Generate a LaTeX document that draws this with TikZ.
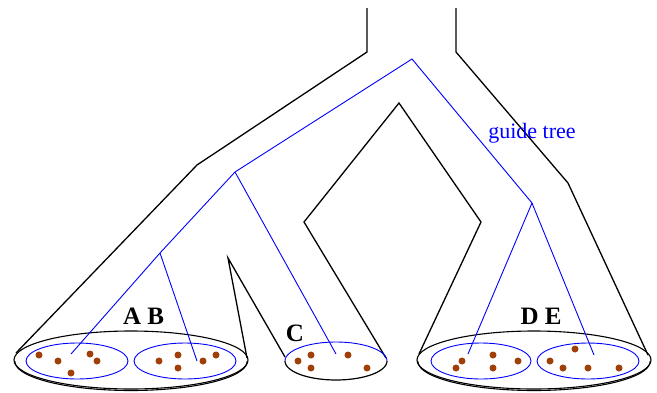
\documentclass[tikz,border=0pt]{standalone}
\usepackage{fontspec}
\setmainfont{Liberation Serif}
\definecolor{seed}{RGB}{160,64,8}
\begin{document}
\begin{tikzpicture}[x=1pt,y=-1pt,
  outline/.style={black, line width=1.3pt, line join=miter},
  guide/.style={blue, line width=0.9pt},
  seeddot/.style={circle, fill=seed, inner sep=0pt, minimum size=7pt},
  grp/.style={blue, line width=0.9pt},
  lbl/.style={font=\bfseries\fontsize{25}{25}\selectfont, anchor=base, inner sep=0pt}]
\useasboundingbox (0,0) rectangle (657,392);

% ---- black outline of the tree ----
\coordinate (lt) at (367,8);
\coordinate (lk) at (367,52);
\coordinate (lb) at (197,165);
\coordinate (le) at (16,353);
\coordinate (rt) at (456,8);
\coordinate (rk) at (456,52);
\coordinate (rb) at (568,183);
\coordinate (re) at (648,355);
\draw[outline] (lt) -- (lk) -- (lb) -- (le);
\draw[outline] (rt) -- (rk) -- (rb) -- (re);
\coordinate (dt) at (399,103);
\coordinate (dl) at (304,222);
\coordinate (dr) at (481,222);
\coordinate (dle) at (386,358);
\coordinate (dre) at (419,354);
\draw[outline] (dle) -- (dl) -- (dt) -- (dr) -- (dre);
\coordinate (na) at (228,258);
\coordinate (nl) at (247,358);
\coordinate (nr) at (285,357);
\draw[outline] (nl) -- (na) -- (nr);

% ---- big bases ----
\draw[outline, line width=1.1pt] (131,360) ellipse [x radius=117, y radius=29];
\draw[outline, line width=1.1pt] plot[domain=0:180, samples=60, smooth] ({131+116*cos(\x)},{361.5+29*sin(\x)});
\draw[outline, line width=1.1pt] (534,360) ellipse [x radius=117, y radius=29];
\draw[outline, line width=1.1pt] plot[domain=0:180, samples=60, smooth] ({534+116*cos(\x)},{361.5+29*sin(\x)});
% C base
\draw[grp] plot[domain=180:360, samples=40, smooth] ({336+51*cos(\x)},{361+19*sin(\x)});
\draw[outline, line width=1.2pt] plot[domain=0:180, samples=40, smooth] ({336+51*cos(\x)},{361+19*sin(\x)});

% ---- groups ----
\draw[grp] (77,361) ellipse [x radius=51, y radius=18];
\draw[grp] (185,361) ellipse [x radius=51, y radius=18];
\draw[grp] (481,361) ellipse [x radius=50, y radius=18];
\draw[grp] (588,361) ellipse [x radius=51, y radius=18];

% ---- seeds ----
\foreach \p [count=\i] in {(39,355),(58,361),(90,354),(97,361),(71,373),
  (159,361),(178,355),(178,368),(203,361),(216,355),
  (298,361),(311,355),(311,368),(348,355),(367,368),
  (462,361),(456,368),(493,355),(493,368),(518,361),
  (575,349),(550,361),(563,368),(588,368),(619,368)}
  \node[seeddot] (s\i) at \p {};

% ---- guide tree ----
\coordinate (root) at (412,59);
\coordinate (nabc) at (235,172);
\coordinate (nab) at (160,253);
\coordinate (nde) at (532,203);
\coordinate (la) at (71,354);
\coordinate (lbb) at (197,361);
\coordinate (lc) at (336,354);
\coordinate (ld) at (468,354);
\coordinate (lee) at (594,355);
\draw[guide] (la) -- (nab) -- (nabc) -- (root) -- (nde) -- (ld);
\draw[guide] (nab) -- (lbb);
\draw[guide] (nabc) -- (lc);
\draw[guide] (nde) -- (lee);

% ---- labels ----
\node[text=blue, font=\fontsize{22}{22}\selectfont, inner sep=0pt] (gt) at (532,133) {guide tree};
\node[lbl] (tab) at (143.5,324) {A B};
\node[lbl] (tc) at (295,341) {C};
\node[lbl] (tde) at (541,324) {D E};
\end{tikzpicture}
\end{document}
